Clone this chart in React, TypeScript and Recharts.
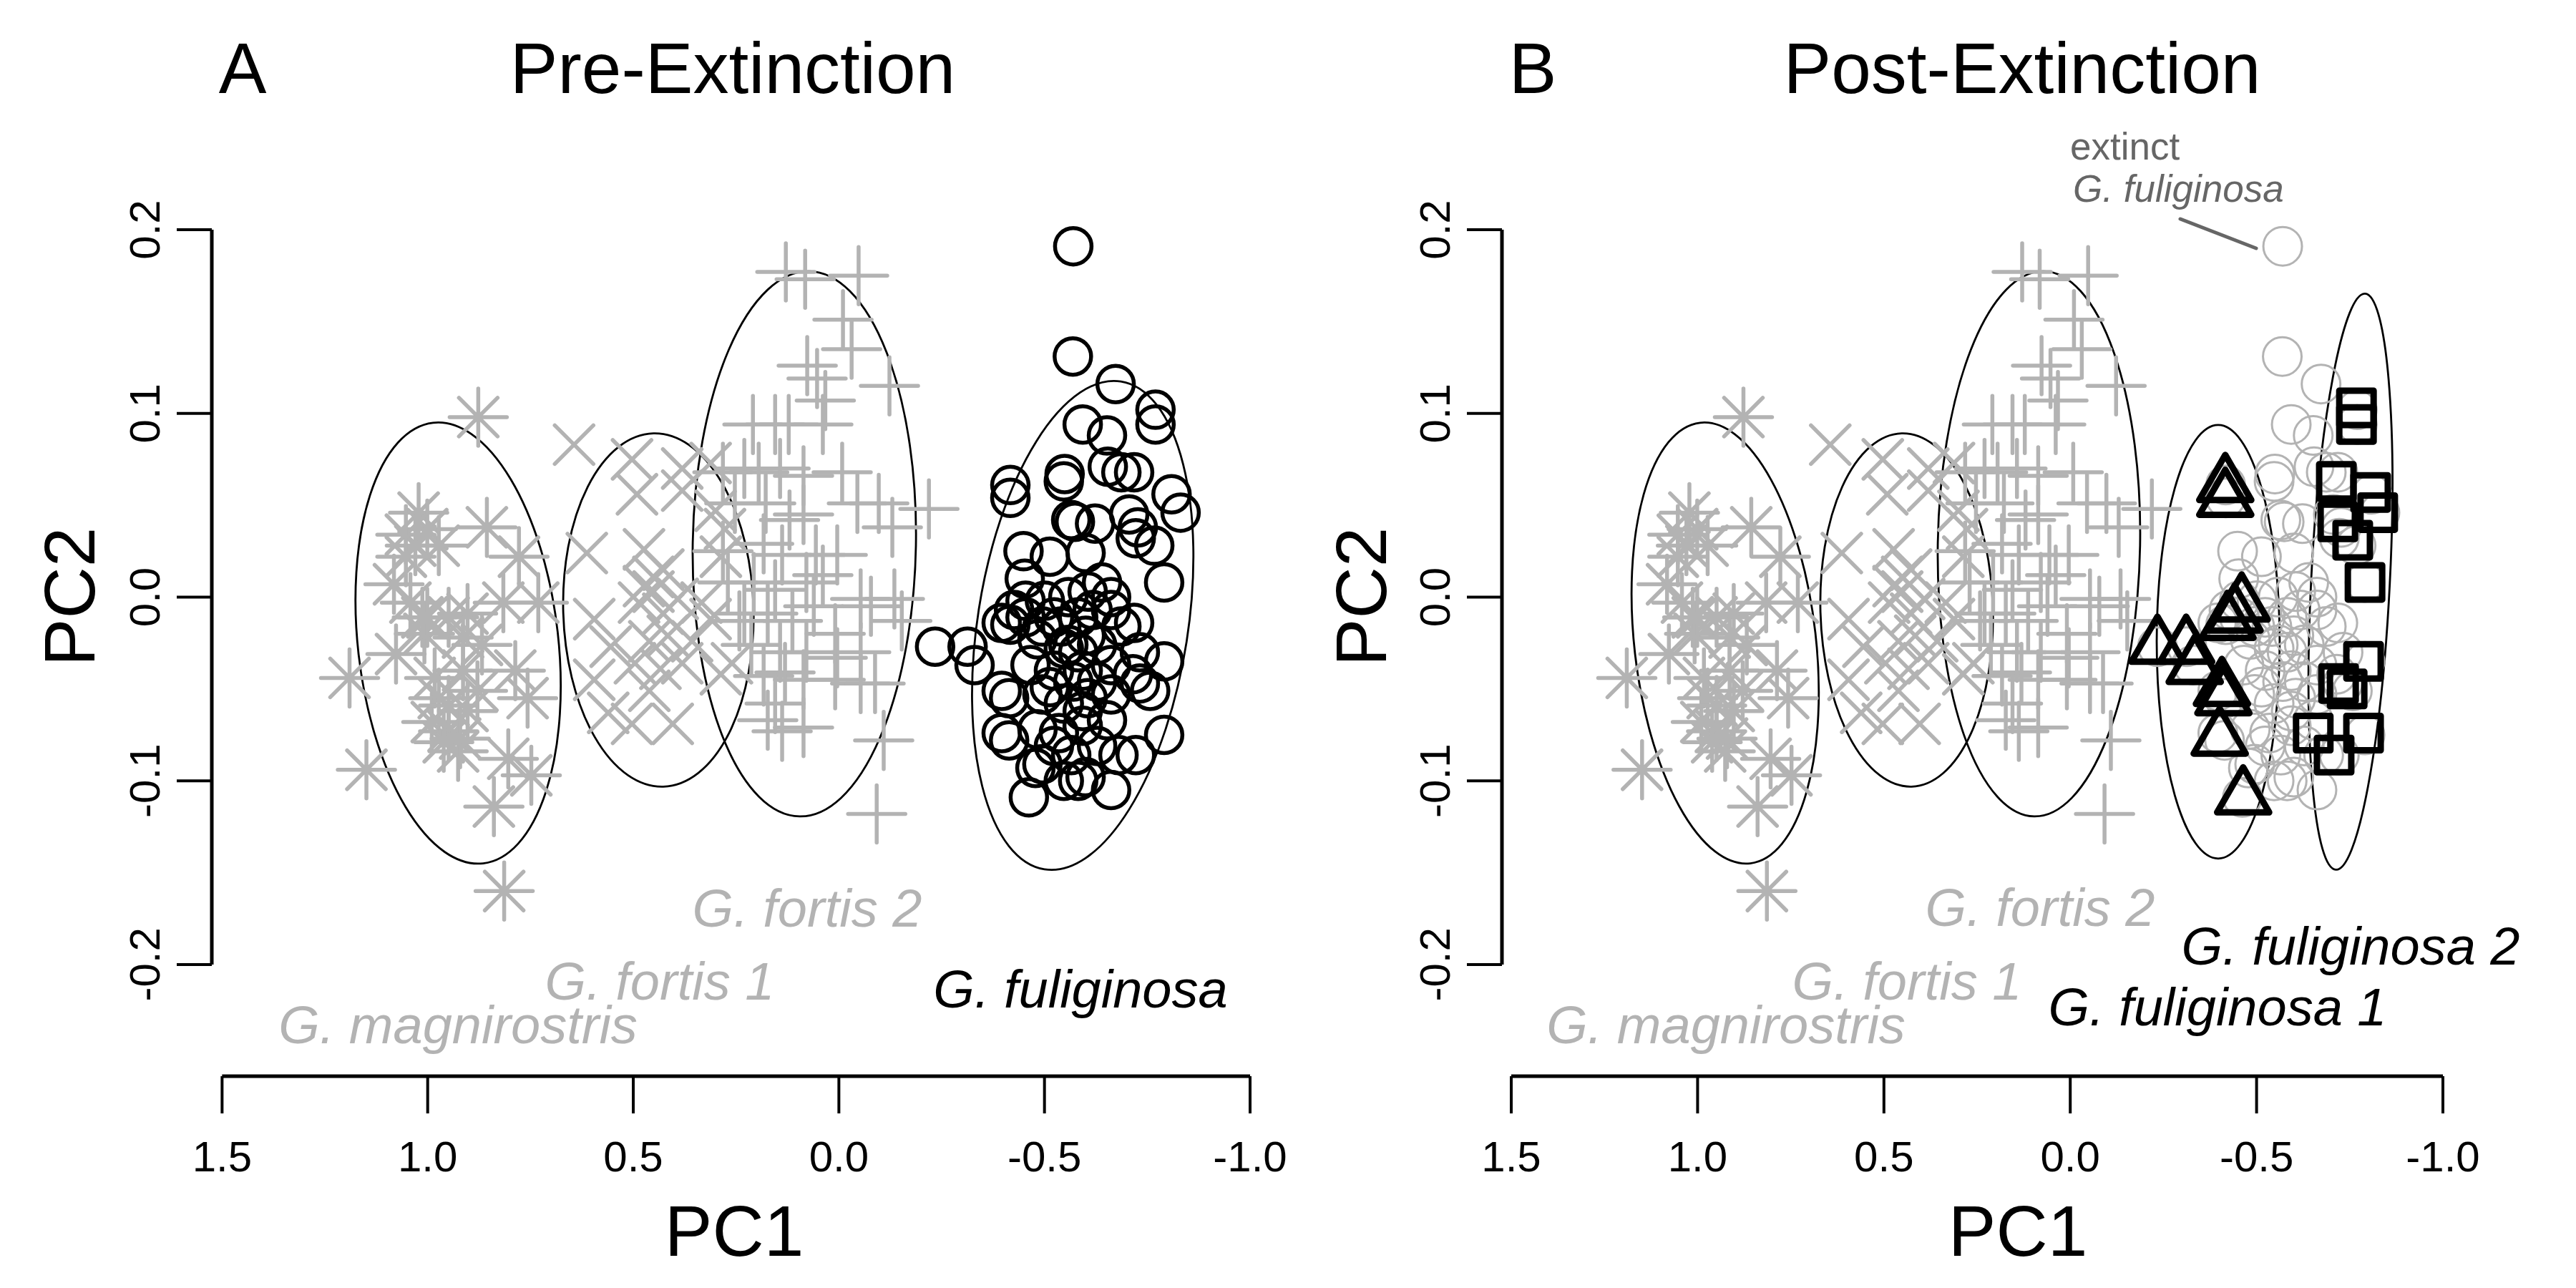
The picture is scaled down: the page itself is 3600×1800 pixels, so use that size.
import React from "react";
import {
  ScatterChart,
  Scatter,
  XAxis,
  YAxis,
  ReferenceLine,
  ReferenceArea,
} from "recharts";

const FONT = '"Liberation Sans", Arial, Helvetica, sans-serif';
const GREY = "#b3b3b3";
const DARK_GREY = "#666666";

// axis ticks
const xTicks = [1.5, 1.0, 0.5, 0.0, -0.5, -1.0];
const yTicks = [-0.2, -0.1, 0.0, 0.1, 0.2];

// G. magnirostris (asterisks)
const magnirostrisPC1 = [
  0.877, 1.19, 1.149, 0.814, 1.022, 0.856, 0.778, 1.082, 0.731, 0.816, 1.013,
  1.077, 0.914, 0.787, 0.757, 0.973, 0.879, 0.99, 0.949, 0.926, 0.804, 0.748,
  0.839, 1.001, 0.973, 1.03, 1.053, 0.949, 0.914, 1.008, 1.042, 0.868, 0.983,
  0.949, 0.903, 0.961, 1.001, 0.921, 1.053, 0.903,
];
const magnirostrisPC2 = [
  0.098, -0.044, -0.094, -0.16, 0.046, 0.038, 0.022, 0.007, -0.003, -0.003,
  -0.011, -0.031, -0.022, -0.04, -0.055, -0.055, -0.051, -0.068, -0.073,
  -0.084, -0.088, -0.097, -0.114, 0.037, 0.028, 0.028, 0.034, -0.011, -0.04,
  -0.02, -0.003, -0.026, -0.044, -0.059, -0.062, -0.079, -0.011, -0.077, 0.022,
  -0.009,
];

// G. fortis 1 (crosses)
const fortis1PC1 = [
  0.644, 0.503, 0.491, 0.381, 0.312, 0.381, 0.613, 0.474, 0.277, 0.287, 0.595,
  0.474, 0.451, 0.486, 0.427, 0.392, 0.334, 0.461, 0.416, 0.496, 0.595, 0.434,
  0.381, 0.503, 0.404, 0.287, 0.26, 0.561, 0.461, 0.3, 0.451, 0.357, 0.312,
  0.555, 0.427,
];
const fortis1PC2 = [
  0.083, 0.075, 0.056, 0.07, 0.073, 0.058, 0.024, 0.026, 0.037, 0.022, -0.012,
  0.006, 0.003, -0.003, -0.009, -0.001, -0.003, -0.024, -0.021, -0.036, -0.045,
  -0.039, -0.036, -0.069, -0.069, -0.042, -0.036, -0.063, -0.051, 0.047, 0.011,
  -0.024, -0.012, -0.027, 0.015,
];

// G. fortis 2 (plus signs)
const fortis2PC1 = [
  0.129, 0.082, -0.048, -0.01, -0.031, -0.123, 0.077, 0.053, 0.033, 0.155,
  0.209, 0.122, 0.282, 0.23, 0.195, 0.143, 0.086, -0.008, -0.045, -0.097, -0.13,
  -0.219, 0.178, 0.12, 0.086, 0.282, 0.183, 0.138, 0.056, 0.004, 0.27, 0.207,
  0.155, 0.079, 0.039, -0.053, -0.135, -0.078, 0.23, 0.173, 0.113, 0.061, 0.009,
  -0.153, 0.213, 0.143, 0.079, 0.004, -0.053, 0.183, 0.131, 0.086, 0.009,
  -0.053, -0.088, 0.155, 0.138, 0.086, -0.109, -0.092, 0.242, 0.253, 0.039,
  0.173,
];
const fortis2PC2 = [
  0.177, 0.173, 0.175, 0.151, 0.135, 0.115, 0.126, 0.119, 0.107, 0.094, 0.094,
  0.094, 0.068, 0.07, 0.068, 0.07, 0.066, 0.068, 0.051, 0.051, 0.038, 0.048,
  0.051, 0.042, 0.045, 0.025, 0.029, 0.023, 0.023, 0.023, 0.008, 0.008, 0.004,
  0.008, 0.012, -0.001, -0.001, -0.005, -0.009, -0.009, -0.013, -0.005, -0.02,
  -0.013, -0.026, -0.03, -0.03, -0.033, -0.03, -0.043, -0.041, -0.045, -0.045,
  -0.047, -0.047, -0.058, -0.073, -0.071, -0.078, -0.118, -0.013, 0.051, 0.094,
  -0.067,
];

// G. fuliginosa before the extinction (circles)
const fuliginosaPC1 = [
  -0.57, -0.569, -0.673, -0.77, -0.77, -0.593, -0.652, -0.417, -0.417, -0.549,
  -0.547, -0.654, -0.687, -0.718, -0.809, -0.831, -0.574, -0.565, -0.706,
  -0.727, -0.722, -0.449, -0.513, -0.6, -0.767, -0.791, -0.452, -0.64, -0.718,
  -0.417, -0.454, -0.501, -0.558, -0.605, -0.662, -0.234, -0.313, -0.33, -0.396,
  -0.483, -0.541, -0.6, -0.547, -0.582, -0.628, -0.687, -0.791, -0.466, -0.523,
  -0.593, -0.662, -0.732, -0.715, -0.396, -0.414, -0.495, -0.547, -0.605,
  -0.662, -0.757, -0.396, -0.414, -0.483, -0.535, -0.593, -0.628, -0.68, -0.722,
  -0.791, -0.478, -0.495, -0.582, -0.6, -0.662, -0.462, -0.547, -0.558, -0.582,
  -0.523, -0.495, -0.57, -0.628, -0.513, -0.593, -0.454, -0.426, -0.617, -0.662,
  -0.652, -0.565, -0.523, -0.732, -0.623,
];
const fuliginosaPC2 = [
  0.191, 0.131, 0.116, 0.102, 0.094, 0.094, 0.088, 0.061, 0.054, 0.067, 0.063,
  0.071, 0.068, 0.068, 0.056, 0.046, 0.041, 0.042, 0.045, 0.038, 0.032, 0.025,
  0.022, 0.024, 0.028, 0.008, 0.01, 0.008, -0.014, -0.015, -0.002, -0.002, 0.0,
  0.003, 0.0, -0.027, -0.027, -0.037, -0.014, -0.023, -0.016, -0.021, -0.028,
  -0.03, -0.026, -0.016, -0.035, -0.037, -0.04, -0.04, -0.037, -0.047, -0.042,
  -0.051, -0.055, -0.053, -0.058, -0.055, -0.053, -0.051, -0.074, -0.078,
  -0.072, -0.074, -0.07, -0.081, -0.086, -0.086, -0.075, -0.093, -0.091, -0.1,
  -0.098, -0.105, -0.109, -0.1, -0.026, -0.011, -0.011, -0.016, -0.046, -0.046,
  -0.049, -0.062, -0.011, -0.007, -0.007, -0.007, -0.067, -0.086, -0.081,
  -0.03, 0.04,
];

// G. fuliginosa 1 after the extinction (triangles)
const fuliginosa1PC1 = [
  -0.416, -0.416, -0.46, -0.422, -0.441, -0.234, -0.311, -0.334, -0.407,
  -0.411, -0.401, -0.464,
];
const fuliginosa1PC2 = [
  0.061, 0.053, -0.004, -0.014, -0.01, -0.027, -0.027, -0.038, -0.05, -0.055,
  -0.077, -0.109,
];

// G. fuliginosa 2 after the extinction (squares)
const fuliginosa2PC1 = [
  -0.768, -0.768, -0.714, -0.806, -0.825, -0.718, -0.758, -0.791, -0.787, -0.72,
  -0.743, -0.787, -0.652, -0.708,
];
const fuliginosa2PC2 = [
  0.103, 0.094, 0.063, 0.057, 0.046, 0.041, 0.031, 0.008, -0.035, -0.047, -0.05,
  -0.074, -0.074, -0.086,
];

// group ellipses: magnirostris, fortis 1, fortis 2, fuliginosa
const ellipseCentrePC1 = [0.926, 0.439, 0.084, -0.593];
const ellipseCentrePC2 = [-0.025, -0.007, 0.029, -0.0154];
const ellipseHalfPC1 = [0.2436, 0.2314, 0.2714, 0.2557];
const ellipseHalfPC2 = [0.1207, 0.0962, 0.1484, 0.1344];
const ellipseTilt = [-6.5, -1.6, 1, 8.9];

// ellipses of the two new fuliginosa groups
const splitCentrePC1 = [-0.397, -0.752];
const splitCentrePC2 = [-0.0243, 0.0084];
const splitHalfPC1 = [0.165, 0.1056];
const splitHalfPC2 = [0.118, 0.157];
const splitTilt = [0, 2.9];

const zip = (xs: number[], ys: number[]) => xs.map((x, i) => ({ x, y: ys[i] }));

const magnirostris = zip(magnirostrisPC1, magnirostrisPC2);
const fortis1 = zip(fortis1PC1, fortis1PC2);
const fortis2 = zip(fortis2PC1, fortis2PC2);
const fuliginosa = zip(fuliginosaPC1, fuliginosaPC2);
const fuliginosa1 = zip(fuliginosa1PC1, fuliginosa1PC2);
const fuliginosa2 = zip(fuliginosa2PC1, fuliginosa2PC2);

const X_MIN = -1.0;
const X_MAX = 1.525;
const Y_MIN = -0.2608;
const Y_MAX = 0.26;

// marker shapes (R pch 0, 1, 2, 3, 4, 8)
const plusD = (x: number, y: number, h: number) =>
  `M${x - h},${y}H${x + h}M${x},${y - h}V${y + h}`;
const crossD = (x: number, y: number, h: number) =>
  `M${x - h},${y - h}L${x + h},${y + h}M${x - h},${y + h}L${x + h},${y - h}`;

const Asterisk = (p: any) => (
  <path
    d={plusD(p.cx, p.cy, 40) + crossD(p.cx, p.cy, 27)}
    stroke={GREY}
    strokeWidth={5.5}
    strokeLinecap="round"
    fill="none"
  />
);
const Cross = (p: any) => (
  <path
    d={crossD(p.cx, p.cy, 27)}
    stroke={GREY}
    strokeWidth={5.5}
    strokeLinecap="round"
    fill="none"
  />
);
const Plus = (p: any) => (
  <path
    d={plusD(p.cx, p.cy, 40)}
    stroke={GREY}
    strokeWidth={5.5}
    strokeLinecap="round"
    fill="none"
  />
);
const BlackCircle = (p: any) => (
  <circle cx={p.cx} cy={p.cy} r={25.5} stroke="#000" strokeWidth={5.5} fill="none" />
);
const GreyCircle = (p: any) => (
  <circle cx={p.cx} cy={p.cy} r={27} stroke={GREY} strokeWidth={3} fill="none" />
);
const Triangle = (p: any) => {
  const r = 42;
  const d = `M${p.cx},${p.cy - r}L${p.cx + r * 0.866},${p.cy + r / 2}L${p.cx - r * 0.866},${p.cy + r / 2}Z`;
  return <path d={d} stroke="#000" strokeWidth={9} strokeLinejoin="round" fill="none" />;
};
const Square = (p: any) => (
  <rect
    x={p.cx - 24}
    y={p.cy - 24}
    width={48}
    height={48}
    stroke="#000"
    strokeWidth={9}
    strokeLinejoin="round"
    fill="none"
  />
);

const ellipseShape = (tilt: number) => (p: any) => {
  const cx = p.x + p.width / 2;
  const cy = p.y + p.height / 2;
  return (
    <ellipse
      cx={cx}
      cy={cy}
      rx={Math.abs(p.width) / 2}
      ry={Math.abs(p.height) / 2}
      transform={`rotate(${tilt} ${cx} ${cy})`}
      fill="none"
      stroke="#000"
      strokeWidth={2.8}
    />
  );
};

const XTick = (props: any) => (
  <text
    x={props.x}
    y={props.y}
    dy={81}
    textAnchor="middle"
    fontFamily={FONT}
    fontSize={60}
    fill="#000"
  >
    {Number(props.payload.value).toFixed(1)}
  </text>
);

const YTick = (props: any) => (
  <text
    transform={`translate(${props.x - 24},${props.y}) rotate(-90)`}
    textAnchor="middle"
    fontFamily={FONT}
    fontSize={60}
    fill="#000"
  >
    {Number(props.payload.value).toFixed(1)}
  </text>
);

const renderEllipses = (
  cx: number[],
  cy: number[],
  hx: number[],
  hy: number[],
  tilt: number[],
  tag: string
) =>
  cx.map((c, i) => (
    <ReferenceArea
      key={`${tag}-${i}`}
      x1={c - hx[i]}
      x2={c + hx[i]}
      y1={cy[i] - hy[i]}
      y2={cy[i] + hy[i]}
      ifOverflow="visible"
      shape={ellipseShape(tilt[i])}
    />
  ));

interface PanelProps {
  yAxisWidth: number;
  rightMargin: number;
  after: boolean;
}

const Panel: React.FC<PanelProps> = ({ yAxisWidth, rightMargin, after }) => (
  <ScatterChart
    width={1800}
    height={1800}
    margin={{ top: 167, right: rightMargin, bottom: 0, left: 0 }}
  >
    <XAxis
      type="number"
      dataKey="x"
      domain={[X_MIN, X_MAX]}
      reversed
      allowDataOverflow
      ticks={xTicks}
      interval={0}
      height={296}
      axisLine={false}
      tickSize={52}
      tickMargin={0}
      tickLine={{ stroke: "#000", strokeWidth: 4 }}
      tick={<XTick />}
    />
    <YAxis
      type="number"
      dataKey="y"
      domain={[Y_MIN, Y_MAX]}
      allowDataOverflow
      ticks={yTicks}
      interval={0}
      width={yAxisWidth}
      axisLine={false}
      tickSize={49}
      tickMargin={0}
      tickLine={{ stroke: "#000", strokeWidth: 4 }}
      tick={<YTick />}
    />
    <ReferenceLine
      segment={[
        { x: 1.5, y: Y_MIN },
        { x: -1.0, y: Y_MIN },
      ]}
      stroke="#000"
      strokeWidth={5}
      ifOverflow="visible"
    />
    <ReferenceLine
      segment={[
        { x: X_MAX, y: -0.2 },
        { x: X_MAX, y: 0.2 },
      ]}
      stroke="#000"
      strokeWidth={5}
      ifOverflow="visible"
    />
    <Scatter data={magnirostris} shape={Asterisk} isAnimationActive={false} />
    <Scatter data={fortis1} shape={Cross} isAnimationActive={false} />
    <Scatter data={fortis2} shape={Plus} isAnimationActive={false} />
    <Scatter
      data={fuliginosa}
      shape={after ? GreyCircle : BlackCircle}
      isAnimationActive={false}
    />
    {after && (
      <Scatter data={fuliginosa1} shape={Triangle} isAnimationActive={false} />
    )}
    {after && (
      <Scatter data={fuliginosa2} shape={Square} isAnimationActive={false} />
    )}
    {renderEllipses(
      after ? ellipseCentrePC1.slice(0, 3) : ellipseCentrePC1,
      ellipseCentrePC2,
      ellipseHalfPC1,
      ellipseHalfPC2,
      ellipseTilt,
      "grp"
    )}
    {after &&
      renderEllipses(
        splitCentrePC1,
        splitCentrePC2,
        splitHalfPC1,
        splitHalfPC2,
        splitTilt,
        "split"
      )}
  </ScatterChart>
);

const Label = ({
  x,
  y,
  children,
  size = 74,
  color = "#000",
  italic = false,
  anchor = "middle",
}: any) => (
  <text
    x={x}
    y={y}
    fontFamily={FONT}
    fontSize={size}
    fill={color}
    fontStyle={italic ? "italic" : "normal"}
    textAnchor={anchor}
  >
    {children}
  </text>
);

export default function App() {
  return (
    <div
      style={{
        position: "absolute",
        left: 0,
        top: 0,
        width: 3600,
        height: 1800,
        background: "#fff",
      }}
    >
      <div style={{ position: "absolute", left: 0, top: 0 }}>
        <Panel yAxisWidth={296} rightMargin={53} after={false} />
      </div>
      <div style={{ position: "absolute", left: 1800, top: 0 }}>
        <Panel yAxisWidth={299} rightMargin={186} after={true} />
      </div>
      <svg
        width={3600}
        height={1800}
        style={{ position: "absolute", left: 0, top: 0, pointerEvents: "none" }}
      >
        {/* panel A */}
        <Label x={339} y={130} size={100}>A</Label>
        <Label x={1024} y={130} size={100}>Pre-Extinction</Label>
        <Label x={1026} y={1755} size={100}>PC1</Label>
        <text
          transform="translate(132,834) rotate(-90)"
          textAnchor="middle"
          fontFamily={FONT}
          fontSize={100}
        >
          PC2
        </text>
        <Label x={1128} y={1295} italic color={GREY}>G. fortis 2</Label>
        <Label x={922} y={1397} italic color={GREY}>G. fortis 1</Label>
        <Label x={640} y={1458} italic color={GREY}>G. magnirostris</Label>
        <Label x={1510} y={1408} italic>G. fuliginosa</Label>

        {/* panel B */}
        <Label x={2142} y={130} size={100}>B</Label>
        <Label x={2826} y={130} size={100}>Post-Extinction</Label>
        <Label x={2820} y={1755} size={100}>PC1</Label>
        <text
          transform="translate(1937,834) rotate(-90)"
          textAnchor="middle"
          fontFamily={FONT}
          fontSize={100}
        >
          PC2
        </text>
        <Label x={2851} y={1294} italic color={GREY}>G. fortis 2</Label>
        <Label x={2665} y={1397} italic color={GREY}>G. fortis 1</Label>
        <Label x={2412} y={1458} italic color={GREY}>G. magnirostris</Label>
        <Label x={3285} y={1348} italic>G. fuliginosa 2</Label>
        <Label x={3099} y={1433} italic>G. fuliginosa 1</Label>
        <Label x={2893} y={223} size={53} color={DARK_GREY} anchor="start">
          extinct
        </Label>
        <Label x={2897} y={282} size={53} color={DARK_GREY} italic anchor="start">
          G. fuliginosa
        </Label>
        <line
          x1={3047}
          y1={306}
          x2={3153}
          y2={347}
          stroke={DARK_GREY}
          strokeWidth={5}
          strokeLinecap="round"
        />
      </svg>
    </div>
  );
}
